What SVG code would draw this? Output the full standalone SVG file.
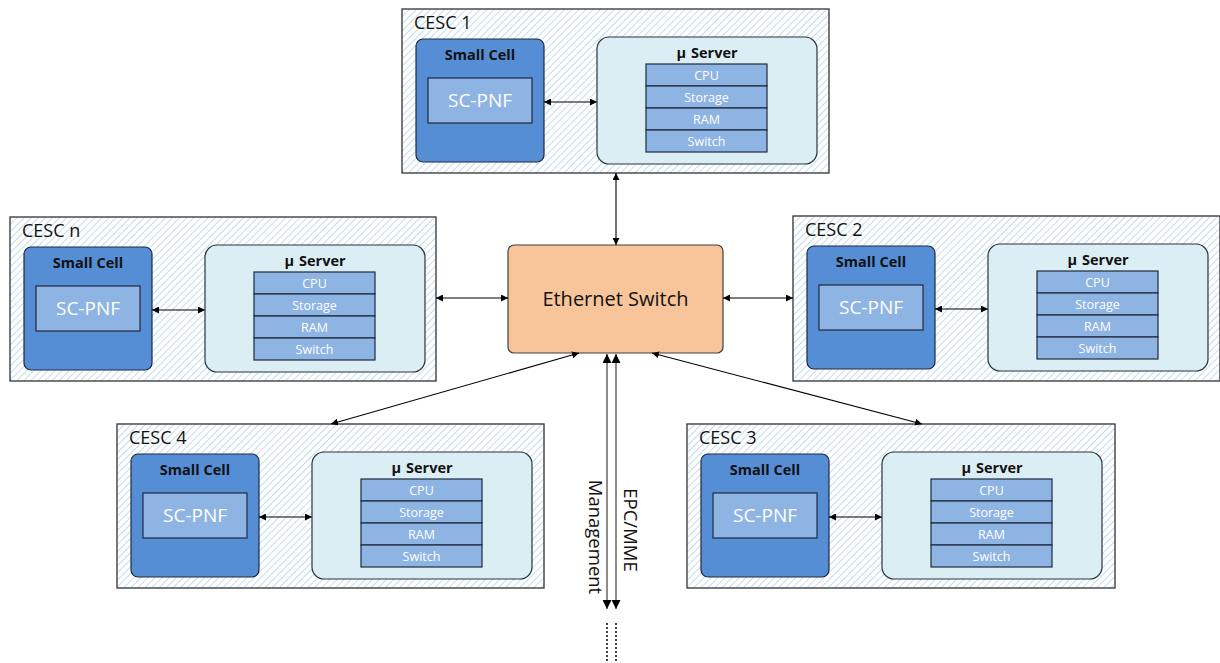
<svg xmlns="http://www.w3.org/2000/svg" width="1220" height="663" viewBox="0 0 1220 663">
  <defs>
    <pattern id="hatch" patternUnits="userSpaceOnUse" width="5" height="5" patternTransform="rotate(45)">
      <rect width="5" height="5" fill="#ffffff"/>
      <line x1="0" y1="0" x2="0" y2="5" stroke="#b2d5e7" stroke-width="1.6"/>
    </pattern>
    <marker id="arr" viewBox="0 0 10 10" refX="10" refY="5" markerWidth="7" markerHeight="7" markerUnits="userSpaceOnUse" orient="auto-start-reverse">
      <path d="M0,0 L10,5 L0,10 z" fill="#000"/>
    </marker>
    <marker id="arrL" viewBox="0 0 10 10" refX="10" refY="5" markerWidth="9" markerHeight="9" markerUnits="userSpaceOnUse" orient="auto-start-reverse">
      <path d="M0,0 L10,5 L0,10 z" fill="#000"/>
    </marker>
  </defs>
  <style>
    text { font-family: "Open Sans", "Liberation Sans", sans-serif; }
    .outer { fill: url(#hatch); stroke: #404040; stroke-width: 1.4; }
    .title { font-size: 18px; fill: #111; }
    .sc { fill: #558ed5; stroke: #1f2a3c; stroke-width: 1.2; }
    .sctitle { font-size: 14.5px; font-weight: bold; fill: #111; text-anchor: middle; }
    .pnf { fill: #8eb4e3; stroke: #1f2a3c; stroke-width: 1.2; }
    .pnftext { font-size: 19px; fill: #ffffff; text-anchor: middle; }
    .srv { fill: #dbeef4; stroke: #2a3440; stroke-width: 1.2; }
    .srvtitle { font-size: 14.5px; font-weight: bold; fill: #111; text-anchor: middle; }
    .row { fill: #8eb4e3; stroke: #1f2a3c; stroke-width: 1.2; }
    .rowtext { font-size: 12.5px; fill: #ffffff; text-anchor: middle; }
    .link { stroke: #000; stroke-width: 1.1; fill: none; marker-start: url(#arr); marker-end: url(#arr); }
    .mgmt { stroke: #6f6f6f; stroke-width: 1.6; fill: none; marker-start: url(#arrL); marker-end: url(#arrL); }
    .dots { stroke: #000; stroke-width: 1.5; stroke-dasharray: 2 2; fill: none; }
    .vlabel { font-size: 18.5px; fill: #111; text-anchor: middle; }
    .hub { fill: #f8c49a; stroke: #404040; stroke-width: 1.2; }
    .hubtext { font-size: 20px; fill: #111; text-anchor: middle; }
  </style>

  <!-- CESC 1 -->
  <g id="cesc1" transform="translate(402,9)">
    <rect class="outer" x="0" y="0" width="427" height="164"/>
    <text class="title" x="12" y="20">CESC 1</text>
    <g id="cesc1-smallcell">
      <rect class="sc" x="14" y="30" width="128" height="123" rx="7"/>
      <text class="sctitle" x="78" y="51">Small Cell</text>
      <rect class="pnf" x="26" y="69" width="104" height="45"/>
      <text class="pnftext" x="78" y="98">SC-PNF</text>
    </g>
    <line class="link" x1="142" y1="93" x2="195" y2="93"/>
    <g id="cesc1-server">
      <rect class="srv" x="195" y="28" width="220" height="127" rx="12"/>
      <text class="srvtitle" x="305" y="49">μ<tspan dx="5">Server</tspan></text>
      <rect class="row" x="244" y="55" width="121" height="22"/>
      <rect class="row" x="244" y="77" width="121" height="22"/>
      <rect class="row" x="244" y="99" width="121" height="22"/>
      <rect class="row" x="244" y="121" width="121" height="22"/>
      <text class="rowtext" x="304.5" y="70.5">CPU</text>
      <text class="rowtext" x="304.5" y="92.5">Storage</text>
      <text class="rowtext" x="304.5" y="114.5">RAM</text>
      <text class="rowtext" x="304.5" y="136.5">Switch</text>
    </g>
  </g>

  <!-- CESC n -->
  <g id="cescn" transform="translate(10,217)">
    <rect class="outer" x="0" y="0" width="426" height="164"/>
    <text class="title" x="12" y="20">CESC n</text>
    <g id="cescn-smallcell">
      <rect class="sc" x="14" y="30" width="128" height="123" rx="7"/>
      <text class="sctitle" x="78" y="51">Small Cell</text>
      <rect class="pnf" x="26" y="69" width="104" height="45"/>
      <text class="pnftext" x="78" y="98">SC-PNF</text>
    </g>
    <line class="link" x1="142" y1="93" x2="195" y2="93"/>
    <g id="cescn-server">
      <rect class="srv" x="195" y="28" width="220" height="127" rx="12"/>
      <text class="srvtitle" x="305" y="49">μ<tspan dx="5">Server</tspan></text>
      <rect class="row" x="244" y="55" width="121" height="22"/>
      <rect class="row" x="244" y="77" width="121" height="22"/>
      <rect class="row" x="244" y="99" width="121" height="22"/>
      <rect class="row" x="244" y="121" width="121" height="22"/>
      <text class="rowtext" x="304.5" y="70.5">CPU</text>
      <text class="rowtext" x="304.5" y="92.5">Storage</text>
      <text class="rowtext" x="304.5" y="114.5">RAM</text>
      <text class="rowtext" x="304.5" y="136.5">Switch</text>
    </g>
  </g>

  <!-- CESC 2 -->
  <g id="cesc2" transform="translate(793,216)">
    <rect class="outer" x="0" y="0" width="427" height="165"/>
    <text class="title" x="12" y="20">CESC 2</text>
    <g id="cesc2-smallcell">
      <rect class="sc" x="14" y="30" width="128" height="123" rx="7"/>
      <text class="sctitle" x="78" y="51">Small Cell</text>
      <rect class="pnf" x="26" y="69" width="104" height="45"/>
      <text class="pnftext" x="78" y="98">SC-PNF</text>
    </g>
    <line class="link" x1="142" y1="93" x2="195" y2="93"/>
    <g id="cesc2-server">
      <rect class="srv" x="195" y="28" width="220" height="127" rx="12"/>
      <text class="srvtitle" x="305" y="49">μ<tspan dx="5">Server</tspan></text>
      <rect class="row" x="244" y="55" width="121" height="22"/>
      <rect class="row" x="244" y="77" width="121" height="22"/>
      <rect class="row" x="244" y="99" width="121" height="22"/>
      <rect class="row" x="244" y="121" width="121" height="22"/>
      <text class="rowtext" x="304.5" y="70.5">CPU</text>
      <text class="rowtext" x="304.5" y="92.5">Storage</text>
      <text class="rowtext" x="304.5" y="114.5">RAM</text>
      <text class="rowtext" x="304.5" y="136.5">Switch</text>
    </g>
  </g>

  <!-- CESC 4 -->
  <g id="cesc4" transform="translate(117,424)">
    <rect class="outer" x="0" y="0" width="427" height="164"/>
    <text class="title" x="12" y="20">CESC 4</text>
    <g id="cesc4-smallcell">
      <rect class="sc" x="14" y="30" width="128" height="123" rx="7"/>
      <text class="sctitle" x="78" y="51">Small Cell</text>
      <rect class="pnf" x="26" y="69" width="104" height="45"/>
      <text class="pnftext" x="78" y="98">SC-PNF</text>
    </g>
    <line class="link" x1="142" y1="93" x2="195" y2="93"/>
    <g id="cesc4-server">
      <rect class="srv" x="195" y="28" width="220" height="127" rx="12"/>
      <text class="srvtitle" x="305" y="49">μ<tspan dx="5">Server</tspan></text>
      <rect class="row" x="244" y="55" width="121" height="22"/>
      <rect class="row" x="244" y="77" width="121" height="22"/>
      <rect class="row" x="244" y="99" width="121" height="22"/>
      <rect class="row" x="244" y="121" width="121" height="22"/>
      <text class="rowtext" x="304.5" y="70.5">CPU</text>
      <text class="rowtext" x="304.5" y="92.5">Storage</text>
      <text class="rowtext" x="304.5" y="114.5">RAM</text>
      <text class="rowtext" x="304.5" y="136.5">Switch</text>
    </g>
  </g>

  <!-- CESC 3 -->
  <g id="cesc3" transform="translate(687,424)">
    <rect class="outer" x="0" y="0" width="428" height="164"/>
    <text class="title" x="12" y="20">CESC 3</text>
    <g id="cesc3-smallcell">
      <rect class="sc" x="14" y="30" width="128" height="123" rx="7"/>
      <text class="sctitle" x="78" y="51">Small Cell</text>
      <rect class="pnf" x="26" y="69" width="104" height="45"/>
      <text class="pnftext" x="78" y="98">SC-PNF</text>
    </g>
    <line class="link" x1="142" y1="93" x2="195" y2="93"/>
    <g id="cesc3-server">
      <rect class="srv" x="195" y="28" width="220" height="127" rx="12"/>
      <text class="srvtitle" x="305" y="49">μ<tspan dx="5">Server</tspan></text>
      <rect class="row" x="244" y="55" width="121" height="22"/>
      <rect class="row" x="244" y="77" width="121" height="22"/>
      <rect class="row" x="244" y="99" width="121" height="22"/>
      <rect class="row" x="244" y="121" width="121" height="22"/>
      <text class="rowtext" x="304.5" y="70.5">CPU</text>
      <text class="rowtext" x="304.5" y="92.5">Storage</text>
      <text class="rowtext" x="304.5" y="114.5">RAM</text>
      <text class="rowtext" x="304.5" y="136.5">Switch</text>
    </g>
  </g>

  <!-- Central switch -->
  <g id="ethernet-switch">
    <rect class="hub" x="508" y="245" width="215" height="108" rx="6"/>
    <text class="hubtext" x="615.5" y="306">Ethernet Switch</text>
  </g>

  <!-- Connectors -->
  <g id="connectors">
    <line class="link" x1="616" y1="173" x2="616" y2="245"/>
    <line class="link" x1="436" y1="298" x2="508" y2="298"/>
    <line class="link" x1="723" y1="298" x2="793" y2="298"/>
    <line class="link" x1="579" y1="353" x2="331" y2="424"/>
    <line class="link" x1="652" y1="353" x2="922" y2="424"/>
    <line class="mgmt" x1="607" y1="354" x2="607" y2="609"/>
    <line class="mgmt" x1="616" y1="354" x2="616" y2="609"/>
    <line class="dots" x1="607" y1="623" x2="607" y2="662"/>
    <line class="dots" x1="616" y1="623" x2="616" y2="662"/>
    <text class="vlabel" transform="translate(589,537) rotate(90)">Management</text>
    <text class="vlabel" transform="translate(624,530) rotate(90)">EPC/MME</text>
  </g>
</svg>
